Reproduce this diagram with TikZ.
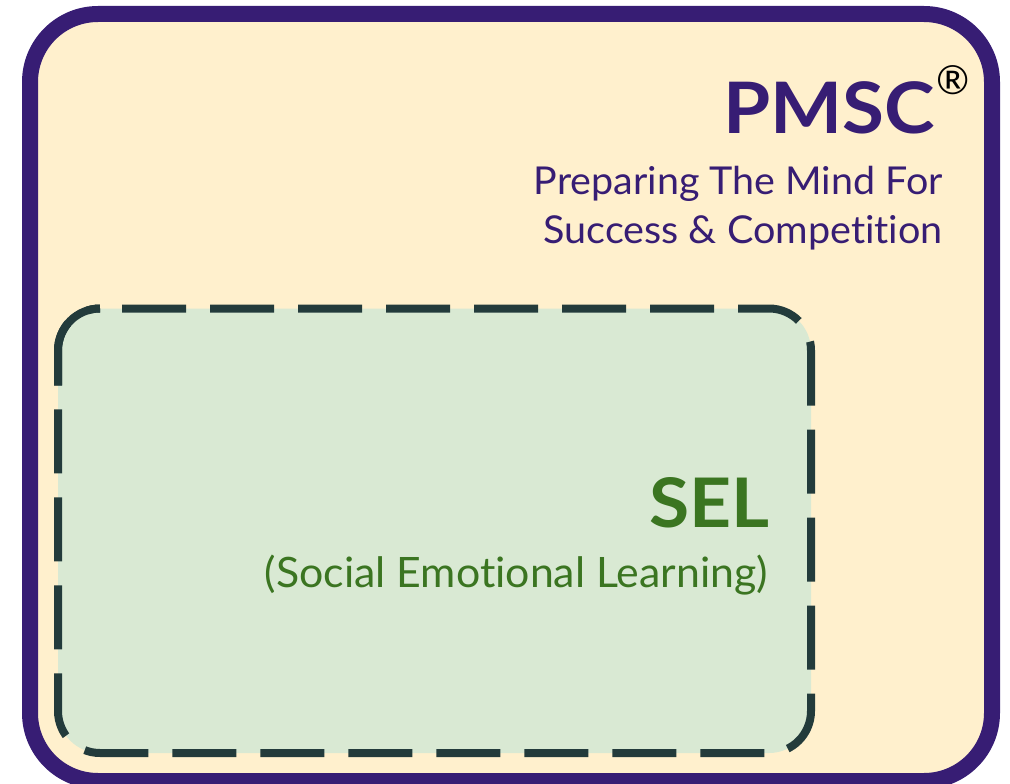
\documentclass[tikz,border=0pt]{standalone}
\usepackage{fontspec}
\usepackage{graphicx}
\setmainfont{Lato}[Ligatures={NoCommon,NoRare}]
\definecolor{pmscpurple}{HTML}{371D74}
\definecolor{cream}{HTML}{FFF0CD}
\definecolor{selgreen}{HTML}{3B7521}
\definecolor{selfill}{HTML}{D9E9D3}
\definecolor{dashdark}{HTML}{233B3B}
\tikzset{
  outerbox/.style={draw=pmscpurple, line width=16pt, fill=cream, rounded corners=68pt},
  selfillbox/.style={fill=selfill, rounded corners=42pt},
  seledge/.style={draw=dashdark, line width=8pt, rounded corners=42pt},
  seldash/.style={seledge, dash pattern=on 64pt off 24pt, dash phase=66pt},
  label/.style={inner sep=0pt, anchor=base east},
}
\newcommand{\widen}[2]{\scalebox{#1}[1]{#2}}
\begin{document}
\begin{tikzpicture}[x=1pt, y=-1pt]
  \useasboundingbox (0,0) rectangle (1010,784);
  % outer PMSC frame
  \draw[outerbox] (30,14) rectangle (992,781);
  % SEL region: fill, dashed outline, and the joined dash over the top-left corner
  \fill[selfillbox] (58,308.5) rectangle (811,753);
  \draw[seldash] (100,308.5) -- (811,308.5) -- (811,753) -- (58,753) -- (58,308.5) -- (100,308.5);
  \draw[seledge] (58,385.5) -- (58,308.5) -- (100,308.5);
  % PMSC heading
  \node[label, text=pmscpurple, font=\fontsize{71}{80}\selectfont\bfseries] (pmsc) at (935,133) {\widen{1.075}{PMSC}};
  \node[inner sep=0pt, text=black, font=\fontsize{40}{44}\selectfont] (reg) at (953,80) {®};
  \node[label, text=pmscpurple, font=\fontsize{38.4}{44}\selectfont] (sub1) at (943,194) {\widen{1.027}{Preparing The Mind For}};
  \node[label, text=pmscpurple, font=\fontsize{38.4}{44}\selectfont] (sub2) at (943,243) {\widen{1.03}{Success \& Competition}};
  % SEL heading
  \node[label, text=selgreen, font=\fontsize{68.4}{76}\selectfont\bfseries] (sel) at (770,527) {\widen{1.07}{SEL}};
  \node[label, text=selgreen, font=\fontsize{41.9}{48}\selectfont] (selsub) at (768,587) {\widen{1.022}{(Social Emotional Learning)}};
\end{tikzpicture}
\end{document}
